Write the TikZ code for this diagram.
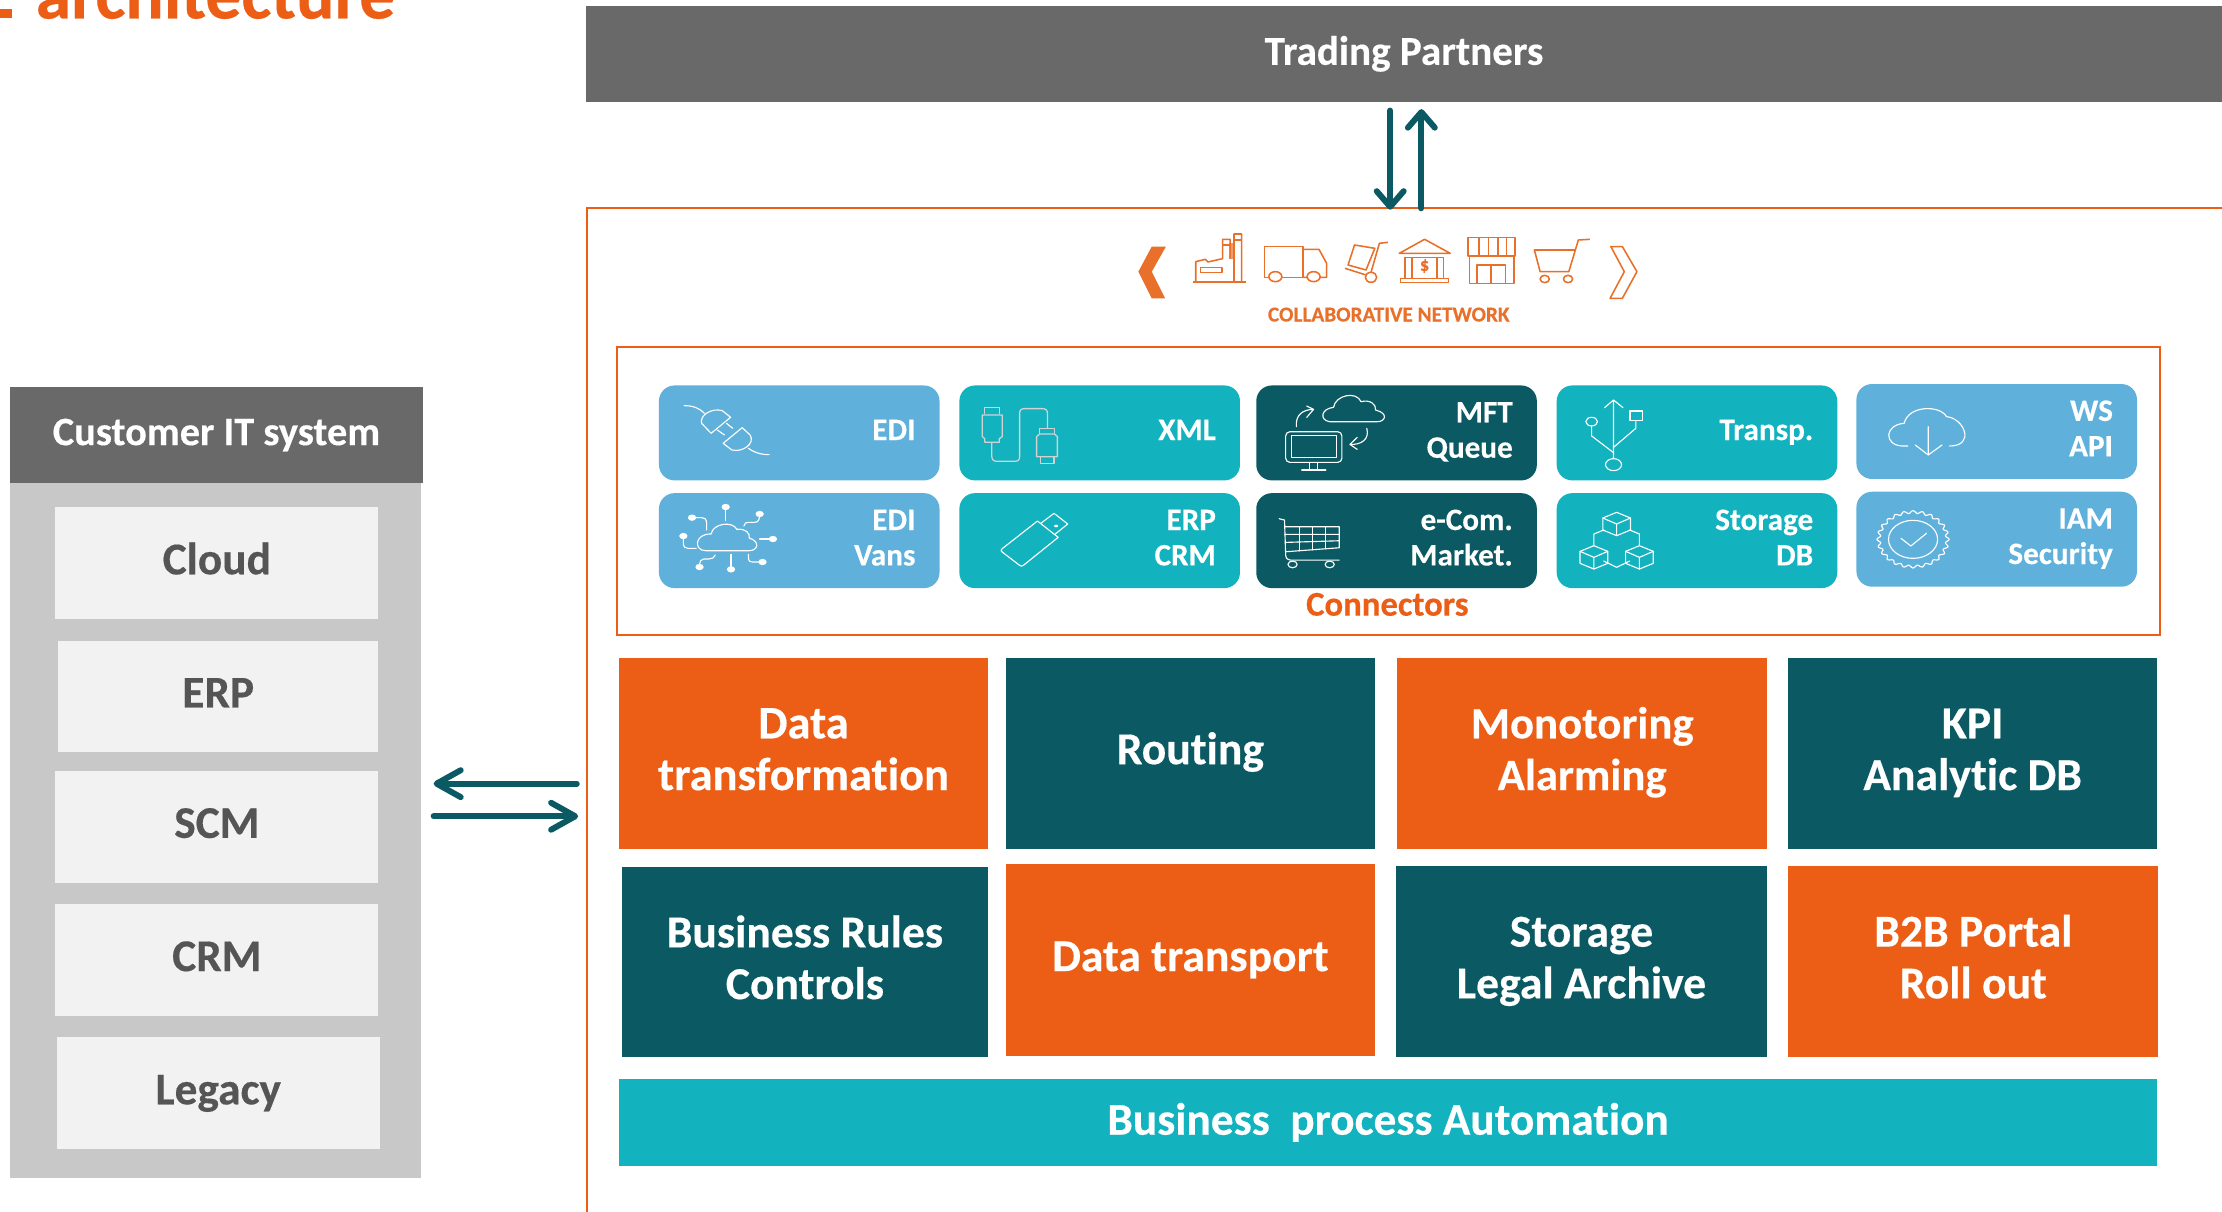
\documentclass[tikz,border=0pt]{standalone}
\usepackage{fontspec}
\setmainfont{Carlito}[Ligatures=NoCommon,BoldFeatures={FakeBold=0.35}]
\usetikzlibrary{arrows.meta}
\definecolor{brandorange}{HTML}{EC5D15}
\definecolor{iconorange}{HTML}{E8702A}
\definecolor{darkteal}{HTML}{0B5A63}
\definecolor{cyanteal}{HTML}{12B2BE}
\definecolor{skyblue}{HTML}{5FB1DC}
\definecolor{bargray}{HTML}{696969}
\definecolor{panelgray}{HTML}{C8C8C8}
\definecolor{cardgray}{HTML}{F2F2F2}
\definecolor{cardtext}{HTML}{555555}
\definecolor{cablegray}{HTML}{D2D2D2}
\newcommand{\fsz}[1]{\fontsize{#1}{#1}\selectfont\bfseries}
\newcommand{\bigsupport}{\rule[-10.5pt]{0pt}{36.5pt}}
\newcommand{\smallsupport}{\rule[-7.5pt]{0pt}{25pt}}
\newcommand{\bigone}[1]{\bigsupport #1}
\newcommand{\bigtwo}[2]{\bigsupport #1\\\bigsupport #2}
\newcommand{\smallone}[1]{\smallsupport #1}
\newcommand{\smalltwo}[2]{\smallsupport #1\\\smallsupport #2}
\newcommand{\isocube}[2]{%
  \draw (#1,#2-35) -- (#1+31,#2-18) -- (#1+31,#2+18) -- (#1,#2+35) -- (#1-31,#2+18) -- (#1-31,#2-18) -- cycle;
  \draw (#1-31,#2-18) -- (#1,#2) -- (#1+31,#2-18) (#1,#2) -- (#1,#2+35);}
\tikzset{
  x=1pt,y=-1pt,
  flat/.style={inner sep=0pt,outer sep=0pt,align=center,text=white},
  bigbox/.style={flat,minimum height=135pt,font=\fontsize{32.2}{36.5}\selectfont\bfseries},
  orangebox/.style={bigbox,fill=brandorange},
  tealbox/.style={bigbox,fill=darkteal},
  conn/.style={inner sep=0pt,outer sep=0pt,rounded corners=11pt,minimum width=198pt,minimum height=67pt,
     text width=164pt,align=right,text=white,font=\fontsize{22}{25}\selectfont\bfseries},
  connsky/.style={conn,fill=skyblue},
  conncyan/.style={conn,fill=cyanteal},
  conndark/.style={conn,fill=darkteal},
  card/.style={flat,fill=cardgray,text=cardtext,minimum height=79pt,font=\fontsize{32}{36.5}\selectfont\bfseries},
  vlink/.style={draw=darkteal,line width=4.2pt,line cap=round,-{Straight Barb[round,length=11pt,width=19pt,line width=4.2pt]}},
  hlink/.style={draw=darkteal,line width=4.2pt,line cap=round,-{Straight Barb[round,length=17pt,width=19pt,line width=4.2pt]}},
  frameline/.style={draw=brandorange,line width=1.5pt},
  iconw/.style={draw=white,line width=0.8pt,line join=round,line cap=round},
  iconc/.style={draw=cablegray,line width=0.9pt,line join=round},
  icono/.style={draw=iconorange,line width=1.1pt,line join=round},
  zoomA/.style={shift={(423.4,254)},x=0.2926pt,y=-0.2353pt},
  zoomB/.style={shift={(776.3,141.1)},x=0.27pt,y=-0.2353pt},
  zoomC/.style={shift={(1058.6,254)},x=0.315pt,y=-0.2353pt},
}
\begin{document}
\begin{tikzpicture}
\useasboundingbox (0,0) rectangle (1568,855);
\fill[white] (0,0) rectangle (1568,855);
\clip (0,0) rectangle (1568,855);

% title fragment
\fill[brandorange] (0,6) rectangle (8.5,13);
\node[inner sep=0pt,anchor=base west,text=brandorange,font=\fsz{50.5}] (title) at (25,13) {architecture};

% frames
\node[flat,fill=bargray,minimum width=1154.5pt,minimum height=68pt,font=\fsz{29}] (partners) at (990.75,38) {Trading Partners};
\draw[frameline] (1575,147) -- (414,147) -- (414,862);
\node[frameline,inner sep=0pt,minimum width=1088.5pt,minimum height=203pt] (connframe) at (979.75,346.5) {};

% top arrows
\coordinate (dnA) at (981,78);
\coordinate (dnB) at (981,148);
\coordinate (upA) at (1003,147);
\coordinate (upB) at (1003,77);
\draw[vlink] (dnA) -- (dnB);
\draw[vlink] (upA) -- (upB);

% collaborative network
\node[inner sep=0pt,text=iconorange,font=\fsz{15}] (collab) at (980,222) {COLLABORATIVE NETWORK};
\begin{scope}[zoomB]
  \fill[iconorange] (135,140) -- (172,140) -- (135,215) -- (170,295) -- (135,295) -- (100,215) -- cycle;
  \draw[icono] (1335,140) -- (1365,140) -- (1403,215) -- (1365,295) -- (1333,295) -- (1370,215) -- cycle;
  % factory
  \fill[iconorange!70] (338,130) rectangle (350,178);
  \draw[icono] (243,246) -- (382,246);
  \draw[icono] (250,246) -- (250,185) -- (275,178) -- (282,186) -- (320,176) -- (320,118) -- (340,118) -- (340,176) (350,246) -- (350,102) -- (370,102) -- (370,246);
  \draw[icono] (320,135) -- (340,135) (350,120) -- (370,120);
  \draw[icono] (262,203) rectangle (318,218);
  % truck
  \draw[icono] (440,232) -- (430,232) -- (430,140) -- (530,140) -- (530,232) -- (475,232);
  \draw[icono] (530,148) -- (572,148) -- (592,190) -- (592,232) -- (575,232) (541,232) -- (530,232);
  \draw[icono] (458,230) ellipse [x radius=17,y radius=15];
  \draw[icono] (558,230) ellipse [x radius=17,y radius=15];
  % hand cart
  \draw[icono] (665,135) -- (718,145) -- (695,210) -- (648,195) -- cycle;
  \draw[icono] (752,127) -- (730,130) -- (708,217);
  \draw[icono] (640,205) -- (695,225);
  \draw[icono] (708,232) ellipse [x radius=15,y radius=15];
  % bank
  \draw[icono] (782,160) -- (848,118) -- (915,160) -- cycle;
  \draw[icono] (795,172) -- (900,172) (785,235) rectangle (910,247);
  \draw[icono] (797,172) -- (797,235) (815,172) -- (815,235) (880,172) -- (880,235) (898,172) -- (898,235);
  \node[inner sep=0pt,text=iconorange,font=\fsz{13}] (dollar) at (848,198) {\$};
  % shop
  \draw[icono] (962,112) rectangle (1085,168);
  \draw[icono] (990,112) -- (990,168) (1015,112) -- (1015,168) (1040,112) -- (1040,168) (1062,112) -- (1062,168);
  \draw[icono] (965,168) -- (965,250) -- (1082,250) -- (1082,168);
  \draw[icono] (985,250) -- (985,195) -- (1060,195) -- (1060,250) (1022,195) -- (1022,250);
  % cart
  \draw[icono] (1280,118) -- (1250,120) -- (1225,215) -- (1150,215) -- (1135,150) -- (1240,150);
  \draw[icono] (1162,237) ellipse [x radius=12,y radius=11];
  \draw[icono] (1223,237) ellipse [x radius=12,y radius=11];
\end{scope}

% connector cards
\node[connsky] (edi) at (564,305.5) {\smallone{EDI}};
\node[conncyan] (xml) at (776,305.5) {\smallone{XML}};
\node[conndark] (mft) at (985.5,305.5) {\smalltwo{MFT}{Queue}};
\node[conncyan] (transp) at (1197.5,305.5) {\smallone{Transp.}};
\node[connsky] (ws) at (1409,304.5) {\smalltwo{WS}{API}};
\node[connsky] (vans) at (564,381.5) {\smalltwo{EDI}{Vans}};
\node[conncyan] (erp) at (776,381.5) {\smalltwo{ERP}{CRM}};
\node[conndark] (ecom) at (985.5,381.5) {\smalltwo{e-Com.}{Market.}};
\node[conncyan] (storage) at (1197.5,381.5) {\smalltwo{Storage}{DB}};
\node[connsky] (iam) at (1409,380.5) {\smalltwo{IAM}{Security}};
\node[inner sep=0pt,text=brandorange,font=\fsz{24.5}] (connlabel) at (979,426.5) {Connectors};

% icons: plug, cloud network, cable, stick
\begin{scope}[zoomA]
  \draw[iconw] (203,137) .. controls (225,137) and (240,145) .. (252,160);
  \draw[iconw] (315,172) -- (295,152) .. controls (270,143) and (240,165) .. (245,190) -- (268,220) -- cycle;
  \draw[iconw] (305,190) -- (320,205) (283,210) -- (300,225);
  \draw[iconw] (343,203) -- (297,250) -- (318,270) .. controls (345,278) and (375,250) .. (362,225) -- cycle;
  \draw[iconw] (358,265) .. controls (375,280) and (390,284) .. (408,284);
  % network cloud
  \draw[iconw] (255,572) .. controls (225,572) and (228,520) .. (268,522) .. controls (272,490) and (320,482) .. (330,508) .. controls (352,505) and (362,520) .. (360,534) .. controls (388,545) and (380,572) .. (360,572) -- cycle;
  \draw[iconw] (302,482) -- (302,441);
  \draw[iconw] (257,510) -- (257,485) .. controls (257,477) and (252,473) .. (245,473) -- (222,473);
  \draw[iconw] (347,498) .. controls (347,490) and (352,487) .. (360,487) -- (372,487) .. controls (382,487) and (385,480) .. (385,462);
  \draw[iconw] (385,537) -- (417,537);
  \draw[iconw] (232,565) -- (212,565) .. controls (205,565) and (201,560) .. (201,553) -- (201,528);
  \draw[iconw] (278,585) .. controls (276,593) and (270,597) .. (262,597) -- (250,597) .. controls (244,597) and (240,602) .. (240,621);
  \draw[iconw] (316,583) -- (316,628);
  \draw[iconw] (358,583) -- (358,597) .. controls (358,603) and (362,606) .. (368,606) -- (392,606);
  \foreach \p in {(303,441),(222,473),(385,462),(417,537),(201,528),(240,621),(316,628),(392,606)}
    \fill[white] \p ellipse [x radius=10,y radius=9.5];
  % cable
  \draw[iconc] (928,163) -- (928,143) -- (963,143) -- (963,163);
  \draw[iconc] (922,165) -- (970,165) -- (970,230) -- (963,236) -- (963,247) -- (928,247) -- (928,236) -- (922,230) -- cycle;
  \draw[iconc] (945,247) -- (945,290) .. controls (945,300) and (950,304) .. (958,304) -- (1000,304) .. controls (1008,304) and (1012,300) .. (1012,290) -- (1012,160) .. controls (1012,150) and (1016,146) .. (1024,146) -- (1066,146) .. controls (1075,146) and (1079,150) .. (1079,160) -- (1079,205);
  \draw[iconc] (1060,222) -- (1060,205) -- (1096,205) -- (1096,222);
  \draw[iconc] (1060,222) -- (1096,222) -- (1103,230) -- (1103,290) -- (1053,290) -- (1053,230) -- cycle;
  \draw[iconc] (1062,290) -- (1062,310) -- (1095,310) -- (1095,290);
  % stick
  \draw[iconw] (1055,483) -- (970,566) .. controls (966,570) and (966,573) .. (970,576) -- (1012,616) .. controls (1015,619) and (1018,619) .. (1021,616) -- (1105,532) -- cycle;
  \draw[iconw] (1063,490) -- (1095,460) -- (1128,492) -- (1097,523);
  \fill[white] (1100,498) ellipse [x radius=5,y radius=4];
\end{scope}

% icons: monitor, trolley
\begin{scope}[zoomB]
  \draw[iconw,rounded corners=3pt] (485,695) rectangle (632,787);
  \draw[iconw] (500,707) rectangle (618,773);
  \draw[iconw] (548,787) -- (548,810) (568,787) -- (568,810) (527,810) -- (590,810);
  \draw[iconw] (600,665) .. controls (572,660) and (578,625) .. (610,622) .. controls (615,585) and (670,572) .. (682,605) .. controls (705,598) and (722,612) .. (720,630) .. controls (755,640) and (745,665) .. (725,665) -- cycle;
  \draw[iconw] (513,680) .. controls (510,645) and (530,628) .. (558,628) (540,618) -- (558,628) -- (540,652);
  \draw[iconw] (697,685) .. controls (705,718) and (682,735) .. (653,733) (672,712) -- (653,733) -- (672,748);
  \draw[iconw] (468,956) -- (482,960) -- (485,1065) .. controls (486,1075) and (490,1080) .. (497,1080) -- (625,1080);
  \draw[iconw] (483,980) -- (625,980) -- (625,1043) -- (485,1055);
  \draw[iconw] (483,1003) -- (625,1003) (484,1027) -- (625,1022);
  \draw[iconw] (522,980) -- (522,1052) (555,980) -- (555,1049) (590,980) -- (590,1046);
  \draw[iconw] (503,1093) ellipse [x radius=12,y radius=10];
  \draw[iconw] (600,1093) ellipse [x radius=12,y radius=10];
\end{scope}

% icons: usb, cubes, cloud download, badge
\begin{scope}[zoomC]
  \draw[iconw] (254,120) -- (254,295) (234,143) -- (254,120) -- (275,143);
  \draw[iconw] (254,314) ellipse [x radius=18,y radius=18];
  \draw[iconw] (205,185) ellipse [x radius=13,y radius=13];
  \draw[iconw] (205,198) -- (205,228) -- (254,278);
  \draw[iconw] (291,153) rectangle (318,181);
  \draw[iconw] (304,181) -- (304,205) -- (254,262);
  \begin{scope}[iconw]
    \isocube{261}{492}
    \isocube{210}{592}
    \isocube{312}{592}
    \draw (210,557) -- (210,522) -- (232,510) (312,557) -- (312,522) -- (290,510) (232,603) -- (261,622) -- (290,603);
  \end{scope}
  \draw[iconw] (913,258) -- (900,258) .. controls (860,255) and (860,195) .. (905,190) .. controls (915,135) and (985,135) .. (1000,170) .. controls (1040,175) and (1065,258) .. (1007,258);
  \draw[iconw] (959,200) -- (959,285) (930,255) -- (959,285) -- (990,255);
  \draw[iconw] (925,538) ellipse [x radius=55,y radius=57];
  \draw[iconw] plot[domain=0:360,samples=181,smooth] ({925+(77+4*cos(24*\x))*cos(\x)},{538+(82+4*cos(24*\x))*sin(\x)}) -- cycle;
  \draw[iconw] (898,535) -- (920,558) -- (955,520);
\end{scope}

% main blocks
\node[orangebox,minimum width=260pt,font=\fontsize{32.8}{36.5}\selectfont\bfseries] (dt) at (567,531.5) {\bigtwo{Data}{transformation}};
\node[tealbox,minimum width=260pt] (routing) at (840,531.5) {\bigone{Routing}};
\node[orangebox,minimum width=261pt,font=\fontsize{31.6}{36.5}\selectfont\bfseries] (mon) at (1116.5,531.5) {\bigtwo{Monotoring}{Alarming}};
\node[tealbox,minimum width=260pt] (kpi) at (1392,531.5) {\bigtwo{KPI}{Analytic DB}};
\node[tealbox,minimum width=258pt,minimum height=134pt] (rules) at (568,679) {\bigtwo{Business Rules}{Controls}};
\node[orangebox,minimum width=260pt] (transport) at (840,677.5) {\bigone{Data transport}};
\node[tealbox,minimum width=262pt] (legal) at (1116,678.5) {\bigtwo{Storage}{Legal Archive}};
\node[orangebox,minimum width=261pt] (portal) at (1392.5,678.5) {\bigtwo{B2B Portal}{Roll out}};
\node[flat,fill=cyanteal,minimum width=1085pt,minimum height=61pt,font=\fsz{32}] (bpa) at (979.5,792) {Business~ process Automation};

% customer IT
\node[flat,fill=panelgray,minimum width=290.5pt,minimum height=490pt] (panel) at (152,586) {};
\node[flat,fill=bargray,minimum width=291.5pt,minimum height=68pt,font=\fsz{28.5}] (customer) at (152.75,307) {Customer IT system};
\node[card,minimum width=228pt] (cloud) at (153,397.5) {\bigone{Cloud}};
\node[card,minimum width=226pt] (cerp) at (154,491.5) {\bigone{ERP}};
\node[card,minimum width=228pt] (scm) at (153,583.5) {\bigone{SCM}};
\node[card,minimum width=228pt] (crm) at (153,677.5) {\bigone{CRM}};
\node[card,minimum width=228pt] (legacy) at (154,771.5) {\bigone{Legacy}};

% side arrows
\coordinate (lA) at (407,553);
\coordinate (lB) at (306,553);
\coordinate (rA) at (306,576);
\coordinate (rB) at (408,576);
\draw[hlink] (lA) -- (lB);
\draw[hlink] (rA) -- (rB);
\end{tikzpicture}
\end{document}
